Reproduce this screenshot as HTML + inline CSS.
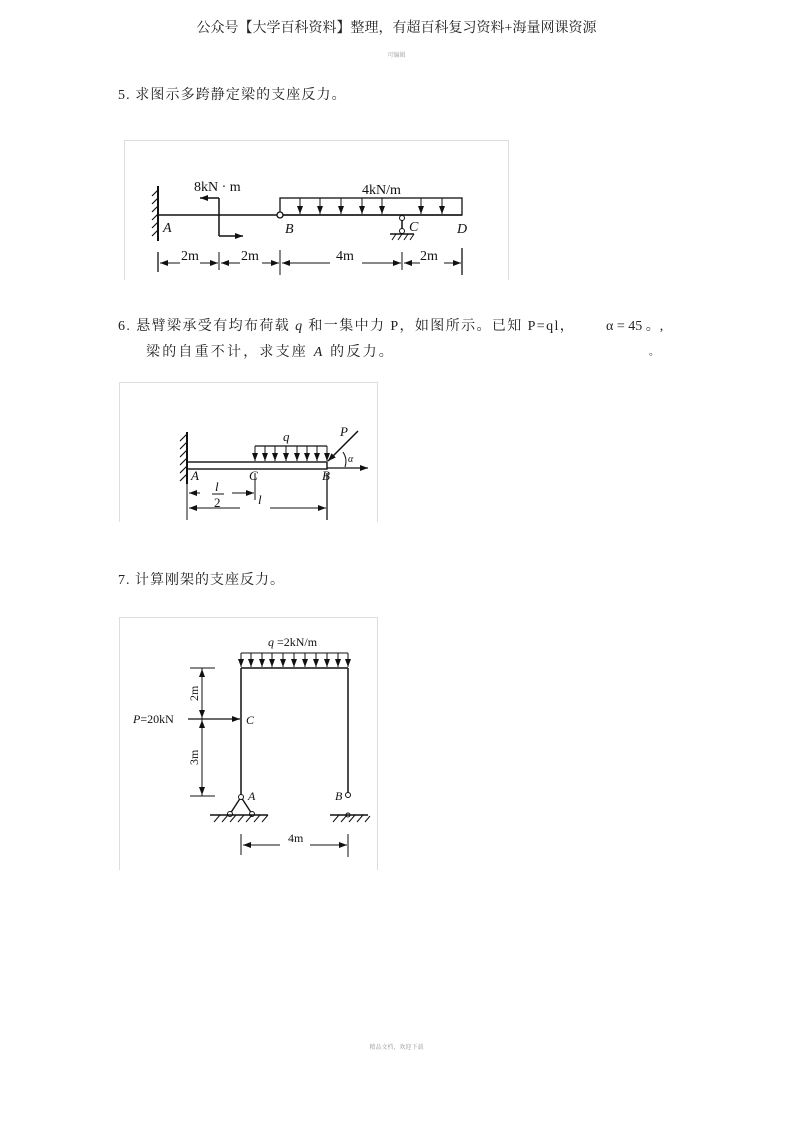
<!DOCTYPE html>
<html><head><meta charset="utf-8">
<style>
html,body{margin:0;padding:0;background:#fff;}
body{width:793px;height:1122px;position:relative;overflow:hidden;font-family:"Liberation Serif","Noto Serif CJK SC","Noto Sans CJK SC",serif;color:#222;}
.t{position:absolute;white-space:nowrap;}
</style></head><body>
<div class="t" style="left:0;width:793px;text-align:center;top:17px;font-size:14px;">公众号【大学百科资料】整理，有超百科复习资料+海量网课资源</div>
<div class="t" style="left:0;width:793px;text-align:center;top:50px;font-size:6px;color:#999;">可编辑</div>
<div class="t" style="left:118px;top:84px;font-size:14px;letter-spacing:1.1px;">5. 求图示多跨静定梁的支座反力。</div>
<div class="t" style="left:118px;top:315px;font-size:14px;letter-spacing:1.4px;">6. 悬臂梁承受有均布荷载 <i>q</i> 和一集中力 P，如图所示。已知 P=ql，</div>
<div class="t" style="left:606px;top:315px;font-size:14px;">α = 45 。,</div>
<div class="t" style="left:146px;top:341px;font-size:14px;letter-spacing:2.2px;">梁的自重不计，求支座 <i>A</i> 的反力。</div>
<div class="t" style="left:649px;top:343px;font-size:10px;">。</div>
<div class="t" style="left:118px;top:569px;font-size:14px;letter-spacing:1px;">7. 计算刚架的支座反力。</div>
<div class="t" style="left:0;width:793px;text-align:center;top:1042px;font-size:6px;color:#999;">精品文档，欢迎下载</div>

<svg width="793" height="1122" style="position:absolute;left:0;top:0" font-family="Liberation Serif, serif" fill="none" stroke="#111">
<defs>
<marker id="ar" markerWidth="8" markerHeight="6" refX="8" refY="3" orient="auto" markerUnits="userSpaceOnUse"><path d="M0,0 L8,3 L0,6 z" fill="#111" stroke="none"/></marker>
</defs>
<!-- Diagram 1 -->
<path d="M124.5,280 V140.5 H508.5 V280" stroke="#ddd"/>
<line x1="158" y1="186" x2="158" y2="241" stroke-width="2"/>
<g stroke-width="1.2"><path d="M158,190 l-6,6 M158,198 l-6,6 M158,206 l-6,6 M158,214 l-6,6 M158,222 l-6,6 M158,230 l-6,6"/></g>
<line x1="158" y1="215" x2="462" y2="215" stroke-width="1.6"/>
<line x1="219" y1="198" x2="219" y2="236" stroke-width="1.5"/>
<line x1="219" y1="198" x2="200" y2="198" stroke-width="1.5" marker-end="url(#ar)"/>
<line x1="219" y1="236" x2="243" y2="236" stroke-width="1.5" marker-end="url(#ar)"/>
<rect x="280" y="198" width="182" height="17" stroke-width="1.3"/>
<g stroke-width="1" >
<line x1="300" y1="198" x2="300" y2="214" marker-end="url(#ar)"/><line x1="320" y1="198" x2="320" y2="214" marker-end="url(#ar)"/><line x1="341" y1="198" x2="341" y2="214" marker-end="url(#ar)"/><line x1="362" y1="198" x2="362" y2="214" marker-end="url(#ar)"/><line x1="382" y1="198" x2="382" y2="214" marker-end="url(#ar)"/><line x1="421" y1="198" x2="421" y2="214" marker-end="url(#ar)"/><line x1="442" y1="198" x2="442" y2="214" marker-end="url(#ar)"/></g>
<circle cx="280" cy="215" r="3" fill="#fff" stroke-width="1.3"/>
<line x1="402" y1="215" x2="402" y2="231" stroke-width="1.5"/>
<circle cx="402" cy="218" r="2.5" fill="#fff"/><circle cx="402" cy="231" r="2.5" fill="#fff"/>
<line x1="390" y1="234" x2="414" y2="234" stroke-width="1.5"/>
<path d="M392,240 l4,-6 M398,240 l4,-6 M404,240 l4,-6 M410,240 l4,-6"/>
<line x1="158" y1="252" x2="158" y2="272" stroke-width="1.3"/>
<line x1="219" y1="252" x2="219" y2="270"/><line x1="280" y1="250" x2="280" y2="275"/><line x1="402" y1="252" x2="402" y2="270"/><line x1="462" y1="248" x2="462" y2="275" stroke-width="1.3"/>
<g stroke-width="1"><line x1="180" y1="263" x2="160" y2="263" marker-end="url(#ar)"/><line x1="200" y1="263" x2="218" y2="263" marker-end="url(#ar)"/>
<line x1="240" y1="263" x2="221" y2="263" marker-end="url(#ar)"/><line x1="262" y1="263" x2="279" y2="263" marker-end="url(#ar)"/>
<line x1="330" y1="263" x2="282" y2="263" marker-end="url(#ar)"/><line x1="362" y1="263" x2="401" y2="263" marker-end="url(#ar)"/>
<line x1="420" y1="263" x2="404" y2="263" marker-end="url(#ar)"/><line x1="444" y1="263" x2="461" y2="263" marker-end="url(#ar)"/></g>
<g fill="#111" stroke="none" font-size="14">
<text x="194" y="191">8kN · m</text><text x="362" y="194">4kN/m</text>
<text x="181" y="260">2m</text><text x="241" y="260">2m</text><text x="336" y="260">4m</text><text x="420" y="260">2m</text>
<g font-style="italic"><text x="163" y="232">A</text><text x="285" y="233">B</text><text x="409" y="231">C</text><text x="457" y="233">D</text></g>
</g>
<!-- Diagram 2 -->
<path d="M119.5,522 V382.5 H377.5 V522" stroke="#ddd"/>
<line x1="187" y1="432" x2="187" y2="484" stroke-width="2"/>
<path d="M187,434 l-7,7 M187,442 l-7,7 M187,450 l-7,7 M187,458 l-7,7 M187,466 l-7,7 M187,474 l-7,7" stroke-width="1.2"/>
<rect x="187" y="462" width="140" height="7" stroke-width="1.4"/>
<line x1="255" y1="446" x2="327" y2="446" stroke-width="1.2"/>
<g stroke-width="1"><line x1="255" y1="446" x2="255" y2="461" marker-end="url(#ar)"/><line x1="265" y1="446" x2="265" y2="461" marker-end="url(#ar)"/><line x1="275" y1="446" x2="275" y2="461" marker-end="url(#ar)"/><line x1="286" y1="446" x2="286" y2="461" marker-end="url(#ar)"/><line x1="297" y1="446" x2="297" y2="461" marker-end="url(#ar)"/><line x1="307" y1="446" x2="307" y2="461" marker-end="url(#ar)"/><line x1="317" y1="446" x2="317" y2="461" marker-end="url(#ar)"/><line x1="327" y1="446" x2="327" y2="461" marker-end="url(#ar)"/></g>
<line x1="358" y1="431" x2="328" y2="461" stroke-width="1.5" marker-end="url(#ar)"/>
<line x1="327" y1="468" x2="368" y2="468" stroke-width="1.2" marker-end="url(#ar)"/>
<path d="M343,452 A17,17 0 0 1 345,467" stroke-width="1"/>
<line x1="187" y1="470" x2="187" y2="520"/><line x1="255" y1="473" x2="255" y2="500"/><line x1="327" y1="473" x2="327" y2="520" stroke-width="1.3"/>
<line x1="200" y1="493" x2="189" y2="493" marker-end="url(#ar)"/><line x1="232" y1="493" x2="254" y2="493" marker-end="url(#ar)"/>
<line x1="240" y1="508" x2="189" y2="508" marker-end="url(#ar)"/><line x1="270" y1="508" x2="326" y2="508" marker-end="url(#ar)"/>
<line x1="212" y1="494" x2="224" y2="494" stroke-width="1"/>
<g fill="#111" stroke="none" font-size="13" font-style="italic">
<text x="283" y="441">q</text><text x="340" y="436">P</text><text x="348" y="462" font-size="10">α</text>
<text x="191" y="480">A</text><text x="249" y="480">C</text><text x="322" y="480">B</text>
<text x="215" y="491">l</text><text x="214" y="507" font-style="normal">2</text><text x="258" y="504">l</text>
</g>
<!-- Diagram 3 -->
<path d="M119.5,870 V617.5 H377.5 V870" stroke="#ddd"/>
<line x1="241" y1="668" x2="241" y2="797" stroke-width="1.5"/>
<line x1="348" y1="668" x2="348" y2="796" stroke-width="1.5"/>
<line x1="241" y1="668" x2="348" y2="668" stroke-width="1.5"/>
<line x1="241" y1="653" x2="348" y2="653" stroke-width="1.1"/>
<g stroke-width="1"><line x1="241" y1="653" x2="241" y2="667" marker-end="url(#ar)"/><line x1="251" y1="653" x2="251" y2="667" marker-end="url(#ar)"/><line x1="262" y1="653" x2="262" y2="667" marker-end="url(#ar)"/><line x1="272" y1="653" x2="272" y2="667" marker-end="url(#ar)"/><line x1="283" y1="653" x2="283" y2="667" marker-end="url(#ar)"/><line x1="294" y1="653" x2="294" y2="667" marker-end="url(#ar)"/><line x1="305" y1="653" x2="305" y2="667" marker-end="url(#ar)"/><line x1="316" y1="653" x2="316" y2="667" marker-end="url(#ar)"/><line x1="327" y1="653" x2="327" y2="667" marker-end="url(#ar)"/><line x1="338" y1="653" x2="338" y2="667" marker-end="url(#ar)"/><line x1="348" y1="653" x2="348" y2="667" marker-end="url(#ar)"/></g>
<line x1="188" y1="719" x2="240" y2="719" stroke-width="1.3" marker-end="url(#ar)"/>
<line x1="190" y1="668" x2="215" y2="668"/><line x1="190" y1="796" x2="215" y2="796"/>
<line x1="202" y1="668" x2="202" y2="796" stroke-width="1"/>
<line x1="202" y1="690" x2="202" y2="669" marker-end="url(#ar)"/><line x1="202" y1="700" x2="202" y2="718" marker-end="url(#ar)"/>
<line x1="202" y1="740" x2="202" y2="720" marker-end="url(#ar)"/><line x1="202" y1="775" x2="202" y2="795" marker-end="url(#ar)"/>
<path d="M241,797 L230,814 M241,797 L252,814" stroke-width="1.4"/>
<circle cx="241" cy="797" r="2.5" fill="#fff"/><circle cx="230" cy="814" r="2.5" fill="#fff"/><circle cx="252" cy="814" r="2.5" fill="#fff"/>
<line x1="210" y1="815" x2="268" y2="815" stroke-width="1.5"/>
<path d="M214,822 l6,-7 M222,822 l6,-7 M230,822 l6,-7 M238,822 l6,-7 M246,822 l6,-7 M254,822 l6,-7 M262,822 l6,-7" stroke-width="1"/>
<circle cx="348" cy="795" r="2.5" fill="#fff"/><circle cx="348" cy="815" r="2" fill="#fff"/>
<line x1="330" y1="815" x2="368" y2="815" stroke-width="1.5"/>
<path d="M333,822 l6,-7 M341,822 l6,-7 M349,822 l6,-7 M357,822 l6,-7 M365,822 l5,-6" stroke-width="1"/>
<line x1="241" y1="834" x2="241" y2="855"/><line x1="348" y1="834" x2="348" y2="857"/>
<line x1="280" y1="845" x2="243" y2="845" marker-end="url(#ar)"/><line x1="310" y1="845" x2="347" y2="845" marker-end="url(#ar)"/>
<g fill="#111" stroke="none" font-size="12">
<text x="268" y="646"><tspan font-style="italic">q</tspan> =2kN/m</text>
<text x="133" y="723"><tspan font-style="italic">P</tspan>=20kN</text>
<text x="246" y="724" font-style="italic">C</text><text x="248" y="800" font-style="italic">A</text><text x="335" y="800" font-style="italic">B</text>
<text x="288" y="842">4m</text>
<text transform="translate(198,701) rotate(-90)">2m</text>
<text transform="translate(198,765) rotate(-90)">3m</text>
</g>
</svg>
</body></html>
